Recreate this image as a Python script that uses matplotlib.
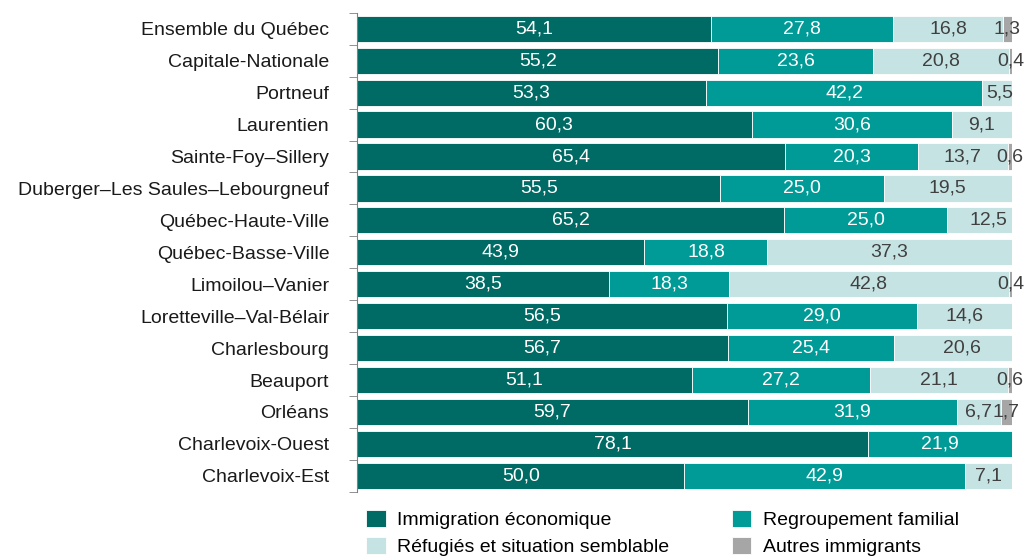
import matplotlib
matplotlib.use("Agg")
import matplotlib.pyplot as plt
import numpy as np

plt.rcParams['font.family'] = ['Liberation Sans Narrow', 'Liberation Sans', 'DejaVu Sans']

regions = ["Ensemble du Québec", "Capitale-Nationale", "Portneuf", "Laurentien",
           "Sainte-Foy–Sillery", "Duberger–Les Saules–Lebourgneuf", "Québec-Haute-Ville",
           "Québec-Basse-Ville", "Limoilou–Vanier", "Loretteville–Val-Bélair",
           "Charlesbourg", "Beauport", "Orléans", "Charlevoix-Ouest", "Charlevoix-Est"]
economique = [54.1, 55.2, 53.3, 60.3, 65.4, 55.5, 65.2, 43.9, 38.5, 56.5, 56.7, 51.1, 59.7, 78.1, 50.0]
familial = [27.8, 23.6, 42.2, 30.6, 20.3, 25.0, 25.0, 18.8, 18.3, 29.0, 25.4, 27.2, 31.9, 21.9, 42.9]
refugies = [16.8, 20.8, 5.5, 9.1, 13.7, 19.5, 12.5, 37.3, 42.8, 14.6, 20.6, 21.1, 6.7, 0.0, 7.1]
autres = [1.3, 0.4, 0.0, 0.0, 0.6, 0.0, 0.0, 0.0, 0.4, 0.0, 0.0, 0.6, 1.7, 0.0, 0.0]

series = [("Immigration économique", economique, "#006b64", "white"),
          ("Regroupement familial", familial, "#009b97", "white"),
          ("Réfugiés et situation semblable", refugies, "#c6e3e4", "#404040"),
          ("Autres immigrants", autres, "#a6a6a6", "#404040")]

fig = plt.figure(figsize=(10.26, 5.57), dpi=100)
ax = fig.add_axes([0.348, 0.117, 0.638, 0.860])

y = np.arange(len(regions))
left = np.zeros(len(regions))
handles = []
for name, vals, col, tcol in series:
    vals = np.array(vals)
    b = ax.barh(y, vals, left=left, height=0.82, color=col, edgecolor="white",
                linewidth=0.6, label=name)
    handles.append(b)
    for i, v in enumerate(vals):
        if v > 0:
            ax.text(left[i] + v / 2, y[i], f"{v:.1f}".replace(".", ","),
                    ha="center", va="center", fontsize=14, color=tcol)
    left += vals

ax.set_xlim(0, 100)
ax.set_ylim(len(regions) - 0.5, -0.5)
ax.set_yticks(y)
ax.set_yticklabels(regions, fontsize=14, color="#1a1a1a")
ax.tick_params(axis="y", which="major", length=0, pad=20)
ax.set_yticks(np.arange(-0.5, len(regions)), minor=True)
ax.tick_params(axis="y", which="minor", length=6, color="#808080")
ax.set_xticks([])
for s in ["top", "right", "bottom"]:
    ax.spines[s].set_visible(False)
ax.spines["left"].set_color("#808080")

# row-major order like the original legend
order = [0, 2, 1, 3]
fig.legend([handles[k] for k in order], [handles[k].get_label() for k in order],
           loc="lower left", bbox_to_anchor=(0.34, -0.03), ncol=2, frameon=False,
           fontsize=14, handlelength=1.0, handleheight=1.0, columnspacing=3.2,
           labelspacing=0.4, handletextpad=0.6)

fig.savefig("out.png", dpi=100)
